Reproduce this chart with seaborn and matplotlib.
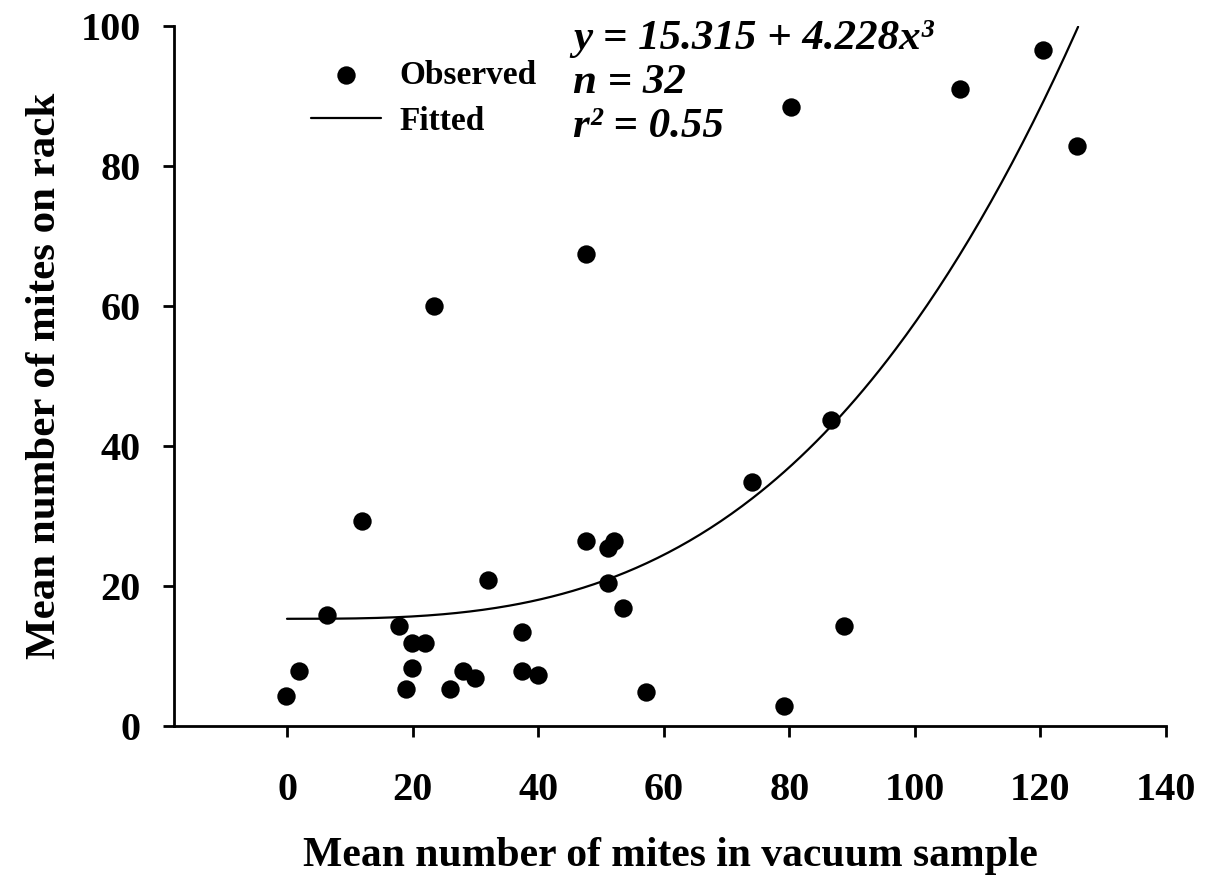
import numpy as np
import pandas as pd
import matplotlib
matplotlib.use("Agg")
import matplotlib.pyplot as plt
import seaborn as sns

vacuum_mites = [-0.2, 1.9, 6.4, 11.9, 17.8, 18.9, 19.9, 19.9, 22.0, 23.4,
                26.0, 28.0, 29.9, 32.0, 37.5, 37.5, 40.0, 47.6, 47.6, 51.1,
                51.1, 52.1, 53.5, 57.2, 74.0, 79.1, 80.3, 86.7, 88.7, 107.2,
                120.4, 125.8]
rack_mites = [4.3, 7.9, 15.8, 29.3, 14.3, 5.3, 11.9, 8.3, 11.9, 60.0,
              5.3, 7.9, 6.8, 20.8, 13.4, 7.9, 7.3, 67.4, 26.4, 25.4,
              20.5, 26.4, 16.8, 4.9, 34.9, 2.9, 88.5, 43.7, 14.3, 91.0,
              96.6, 82.9]

# Fitted model stated on the chart (x in data units)
fit_intercept = 15.315
fit_cubic = 4.228e-5
fit_x_range = [0.0, 126.0]

x_ticks = [0, 20, 40, 60, 80, 100, 120, 140]
y_ticks = [0, 20, 40, 60, 80, 100]

sns.set_theme(style="ticks")
plt.rcParams['font.family'] = ['Liberation Serif', 'DejaVu Serif']
plt.rcParams['font.weight'] = 'bold'
plt.rcParams['text.color'] = 'black'
plt.rcParams['axes.labelcolor'] = 'black'
plt.rcParams['xtick.color'] = 'black'
plt.rcParams['ytick.color'] = 'black'
plt.rcParams['axes.edgecolor'] = 'black'

fig = plt.figure(figsize=(12.12, 8.84), dpi=100)
ax = fig.add_axes([174/1212, 1-726/884, (1166-174)/1212, (726-26)/884])

obs = pd.DataFrame({"vac": vacuum_mites, "rack": rack_mites})
xf = np.linspace(fit_x_range[0], fit_x_range[1], 300)
fit = pd.DataFrame({"vac": xf, "rack": fit_intercept + fit_cubic * xf**3})

sns.lineplot(data=fit, x="vac", y="rack", ax=ax, color="black", linewidth=1.6,
             label="Fitted")
sns.scatterplot(data=obs, x="vac", y="rack", ax=ax, color="black", s=175,
                edgecolor="black", linewidth=0, label="Observed", zorder=3)

ax.set_xlim(-18, 140)
ax.set_ylim(0, 100)
ax.set_xticks(x_ticks)
ax.set_yticks(y_ticks)
ax.set_xticklabels([str(t) for t in x_ticks])
ax.set_yticklabels([str(t) for t in y_ticks])
sns.despine(ax=ax)
for sp in ["left", "bottom"]:
    ax.spines[sp].set_linewidth(2.0)
    ax.spines[sp].set_color("black")
ax.tick_params(axis="both", direction="out", length=8, width=2.0,
               colors="black", labelcolor="black", labelsize=29)
ax.tick_params(axis="x", pad=25)
ax.tick_params(axis="y", pad=16)
for lab in ax.get_xticklabels() + ax.get_yticklabels():
    lab.set_fontweight("bold")
    lab.set_color("black")

ax.set_xlabel("Mean number of mites in vacuum sample", fontsize=30,
              fontweight="bold", labelpad=20, color="black")
ax.set_ylabel("Mean number of mites on rack", fontsize=31,
              fontweight="bold", labelpad=12, color="black")

handles, labels = ax.get_legend_handles_labels()
order = [labels.index("Observed"), labels.index("Fitted")]
leg = ax.legend([handles[i] for i in order], [labels[i] for i in order],
                loc="upper left", bbox_to_anchor=(311/1212, 1-60/884),
                bbox_transform=fig.transFigure, frameon=False,
                prop={"family": "Liberation Serif", "weight": "bold", "size": 24},
                handlelength=2.1, handletextpad=0.55, labelspacing=0.45,
                borderpad=0, borderaxespad=0)
for t in leg.get_texts():
    t.set_color("black")

txt_kw = dict(fontsize=31, fontweight="bold", fontstyle="italic",
              color="black", ha="left", va="baseline")
fig.text(573/1212, 1-49/884, "y = 15.315 + 4.228x³", **txt_kw)
fig.text(573/1212, 1-93/884, "n = 32", **txt_kw)
fig.text(573/1212, 1-137/884, "r² = 0.55", **txt_kw)

fig.savefig("out.png", dpi=100, facecolor="white")
